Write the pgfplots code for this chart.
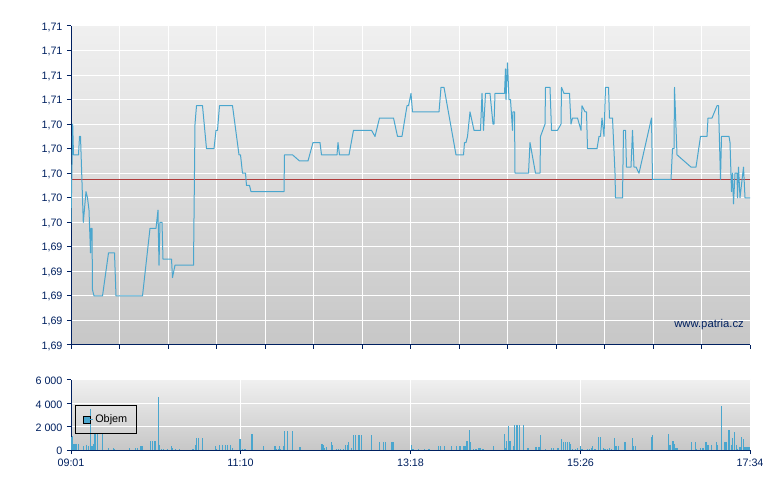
\documentclass[border=0pt]{standalone}
\usepackage{pgfplots}
\pgfplotsset{compat=1.18}
\usepackage{pgfplotstable}
\usepackage{fontspec}
\setmainfont{Liberation Sans}
\definecolor{navy}{HTML}{002060}
\definecolor{lineblue}{HTML}{4AA6CE}
\definecolor{refred}{HTML}{B03C3C}
\pgfplotstableread{
x y
71 1.696
72.7 1.704
73.5 1.7015
78.5 1.7015
79.5 1.703
80.5 1.703
83.3 1.696
86 1.6985
87.5 1.698
89 1.697
90.5 1.6935
91 1.6955
92 1.6955
92.5 1.6905
94 1.69
102.5 1.69
108.5 1.6935
114.5 1.6935
116 1.69
142.5 1.69
150 1.6955
156 1.6955
158 1.697
159 1.6925
160 1.696
162 1.696
163 1.693
171.5 1.693
172.5 1.6915
175 1.6925
193.5 1.6925
195 1.704
196.5 1.7055
202.5 1.7055
206.5 1.702
214 1.702
216 1.7035
217.5 1.7035
219.5 1.7055
232.5 1.7055
239 1.7015
240.5 1.7015
242.5 1.70
245.5 1.70
246.5 1.699
249.5 1.699
251 1.6985
284 1.6985
284.5 1.7015
292.5 1.7015
299.5 1.701
308 1.701
313 1.7025
320 1.7025
321.5 1.7015
337 1.7015
338 1.7025
339.5 1.7015
349 1.7015
353.5 1.7035
371.5 1.7035
375 1.703
379.5 1.7045
393.5 1.7045
397.5 1.703
402 1.703
407 1.7055
408.5 1.7055
411 1.7065
412.5 1.705
439 1.705
441 1.707
444 1.707
456 1.7015
463.5 1.7015
464.5 1.7025
466 1.7025
467.5 1.703
470 1.705
474 1.7035
480.5 1.7035
482 1.7065
483.5 1.7035
485.5 1.7065
490 1.7065
493 1.704
494 1.704
495 1.7065
504.5 1.7065
505.5 1.7085
506 1.706
507.5 1.709
509 1.706
510.5 1.706
512.5 1.7035
513 1.705
514.5 1.705
515 1.70
528.5 1.70
530 1.7025
535.5 1.70
540 1.70
540.5 1.703
545 1.704
545.5 1.707
550 1.707
551.5 1.7035
557.5 1.7035
561 1.704
561.5 1.707
564 1.7065
569.5 1.7065
571 1.704
572.5 1.7045
577.5 1.7045
581 1.7035
582 1.7055
585 1.705
586.5 1.705
587.5 1.702
597 1.702
599 1.703
600.5 1.703
602 1.7045
604 1.703
605.5 1.707
608.5 1.707
609.5 1.7045
612.5 1.7045
615 1.70
615.5 1.698
622.5 1.698
623.5 1.7035
625.5 1.7035
626.5 1.7005
631 1.7005
632.5 1.7035
634 1.7005
636 1.7005
639 1.70
651.5 1.7045
652.5 1.6995
671 1.6995
672.5 1.702
674 1.702
674.5 1.707
677 1.7015
691 1.7005
696 1.7005
700.5 1.703
707 1.703
708 1.7045
712 1.7045
717 1.7055
718.5 1.7055
720.5 1.6995
721.5 1.703
729 1.703
730 1.7025
731.5 1.6985
732.5 1.70
733.5 1.6975
735 1.70
737 1.70
737.5 1.698
738.5 1.7005
740 1.698
743.5 1.7005
745 1.698
750 1.698
}\pricetable
\pgfplotstableread{
x v
71.5 1100
72.5 1200
73.5 550
74.5 550
75.5 550
76.5 550
78.3 550
83.3 350
86.3 450
88.3 300
90.3 3500
91.3 350
92.3 350
93.3 550
94.5 1450
95.5 1450
97.3 1450
102.3 1450
108.3 200
113.3 200
114.3 100
129.3 200
135.3 200
137.3 200
140.5 350
141.5 350
142.5 350
150.3 800
152.3 800
154.5 800
155.5 800
158.3 4500
159.3 450
161.3 100
163.3 100
167.3 100
171.3 350
172.3 200
175.3 100
179.3 100
192.5 100
193.5 100
195.3 450
196.7 1050
198.3 1050
202.3 1050
215.3 350
216.3 100
219.3 450
222.3 450
225.3 450
227.3 450
230.3 450
232.3 150
239.5 900
240.5 900
242.3 100
244.3 100
245.3 100
251.5 1400
252.5 1400
263.3 350
274.5 350
275.5 350
276.7 100
278.3 100
279.3 350
280.3 100
283.3 300
284.3 1650
287.3 1650
292.3 1650
299.5 250
300.5 250
321.5 550
322.5 550
323.3 450
324.3 150
326.3 250
331.3 700
332.3 450
336.3 100
338.3 100
340.3 100
343.3 100
345.3 450
347.3 450
348.3 700
351.3 200
353.3 1250
355.3 1250
358.5 1250
359.5 1250
361.3 1250
371.3 1250
379.3 700
383.3 700
385.3 700
391.5 700
392.5 700
393.5 700
411.3 450
412.3 100
413.3 100
418.3 100
424.3 100
428.5 100
429.5 100
438.3 350
440.3 300
444.3 300
451.3 300
456.3 300
459.5 300
460.5 300
463.5 300
464.5 300
465.5 300
466.5 800
467.5 800
469.3 1750
470.3 700
473.3 100
475.3 100
476.7 100
479 200
480 200
482.3 100
483.3 100
493.3 350
504.3 1400
505.3 200
506.3 800
508.3 2050
509.3 800
510.3 800
513.3 350
514.3 2150
516.3 2150
517.3 2150
519.3 2150
523.3 2150
527.5 200
528.5 200
535.5 250
536.5 250
538.5 250
539.5 250
540.3 1250
545.3 100
551.3 200
553.3 200
557.5 200
558.5 200
561.3 900
563.3 650
565.3 650
567.3 650
569.3 650
570.3 500
572.3 100
575.3 100
577.3 200
580.3 350
581.3 100
582.3 100
587.3 100
589.3 100
591.3 150
592.3 300
594.3 100
595.3 100
598.3 1150
600.3 1150
603.3 200
604.3 100
605.3 100
607.3 100
609.3 200
611.3 100
614.3 1050
615.3 300
616.3 300
618.3 300
624.5 700
625.5 700
632.3 1050
633.3 300
635.3 300
651.3 1100
652.3 1250
668.3 1350
669.3 400
670.3 400
672.5 800
673.5 800
674.3 500
675.3 200
676.3 200
677.3 200
691.3 650
695.3 650
696.3 100
700.3 200
702.5 200
703.5 200
705.5 700
706.5 700
707.5 400
708.5 400
711.3 400
716.3 650
717.3 400
721.3 3800
724.5 700
725.5 700
726.5 700
728.5 1750
729.5 1750
731.3 400
732.3 1050
734.3 1550
736.3 400
737.3 100
739.5 250
740.5 250
741.3 1150
743.3 950
744.5 250
745.5 250
746.5 250
747.5 250
748.5 250
749.5 250
}\voltable
\pgfplotsset{
  common/.style={
    scale only axis, width=679bp,
    xmin=71, xmax=750,
    axis lines=left,
    axis line style={-, navy, line width=1bp},
    tick style={navy, line width=1bp},
    tick align=outside,
    major tick length=4bp,
    minor tick length=0pt,
    grid=major,
    grid style={white, line width=1bp},
    axis background/.style={top color=black!6, bottom color=black!22},
    tick label style={font=\fontsize{10.8}{12}\selectfont, text=navy},
    clip=true,
  }
}
\begin{document}
\begin{tikzpicture}[x=1bp,y=1bp]
\useasboundingbox (0,0) rectangle (780bp,490bp);
\begin{axis}[common,
  at={(71bp,145bp)}, anchor=south west,
  height=319bp,
  ymin=1.686, ymax=1.712,
  xtick={71,119.5,168,216.5,265,313.5,362,410.5,459,507.5,556,604.5,653,701.5,750},
  xticklabels={},
  ytick={1.686,1.688,1.69,1.692,1.694,1.696,1.698,1.70,1.702,1.704,1.706,1.708,1.71,1.712},
  yticklabels={{1,69},{1,69},{1,69},{1,69},{1,69},{1,70},{1,70},{1,70},{1,70},{1,70},{1,71},{1,71},{1,71},{1,71}},
  yticklabel style={xshift=-1bp, yshift=-1bp},
]
\addplot[refred, line width=1bp, forget plot] coordinates {(71,1.6995) (750,1.6995)};
\addplot[lineblue, line width=1bp, line join=round, forget plot] table[x=x,y=y] {\pricetable};
\node[anchor=east, font=\fontsize{11.3}{13}\selectfont, text=navy] at (axis cs:747.3,1.6877) {www.patria.cz};
\end{axis}
\begin{axis}[common,
  at={(71bp,40bp)}, anchor=south west,
  height=70bp,
  ymin=0, ymax=6000,
  xtick={71,240.5,410.5,580.5,750},
  xticklabels={09:01,11:10,13:18,15:26,17:34},
  ytick={0,2000,4000,6000},
  yticklabels={0,2 000,4 000,6 000},
  xticklabel style={yshift=-1bp},
  yticklabel style={xshift=-1bp, yshift=-1bp},
  legend style={at={(0.0063,0.643)}, anchor=north west, draw=black, fill=none,
    font=\fontsize{10.9}{12}\selectfont, inner xsep=7.5bp, inner ysep=7.5bp, line width=0.8bp, text=black, rounded corners=0pt},
  legend image code/.code={\draw[fill=lineblue, draw=black, line width=0.9bp] (0bp,-3.5bp) rectangle (7bp,3.5bp); \path (0bp,0bp) -- (9bp,0bp);},
  legend cell align=left,
]
\addplot[ycomb, lineblue, line width=1.1bp, mark=none] table[x=x,y=v] {\voltable};
\addlegendentry{Objem}
\end{axis}
\end{tikzpicture}
\end{document}
